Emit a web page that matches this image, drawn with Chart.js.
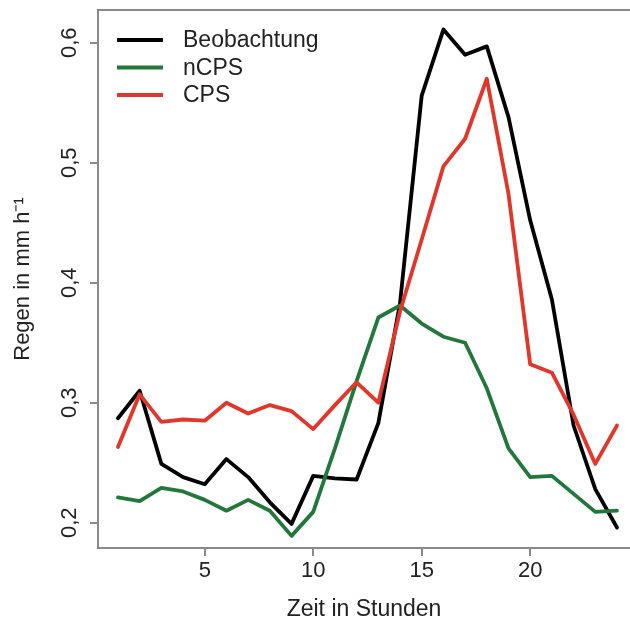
<!DOCTYPE html>
<html>
<head>
<meta charset="utf-8">
<script src="https://cdn.jsdelivr.net/npm/chart.js@4/dist/chart.umd.min.js"></script>
<style>
  html, body { margin: 0; padding: 0; background: #fff; overflow: hidden; }
  #wrap { width: 630px; height: 624px; }
</style>
</head>
<body>
<div id="wrap"><canvas id="chart" width="630" height="624"></canvas></div>
<script>
// ------------------------------------------------------------
// Tagesgang Niederschlag: Beobachtung vs. nCPS / CPS
// ------------------------------------------------------------
const hours = [1, 2, 3, 4, 5, 6, 7, 8, 9, 10, 11, 12, 13, 14, 15, 16, 17, 18, 19, 20, 21, 22, 23, 24];

const beobachtung = [0.287, 0.310, 0.249, 0.238, 0.232, 0.253, 0.238, 0.217, 0.199, 0.239, 0.237, 0.236,
                     0.283, 0.383, 0.556, 0.611, 0.590, 0.597, 0.538, 0.452, 0.386, 0.281, 0.228, 0.196];
const nCPS        = [0.221, 0.218, 0.229, 0.226, 0.219, 0.210, 0.219, 0.210, 0.189, 0.209, 0.262, 0.318,
                     0.371, 0.381, 0.366, 0.355, 0.350, 0.312, 0.262, 0.238, 0.239, 0.224, 0.209, 0.210];
const CPS         = [0.263, 0.307, 0.284, 0.286, 0.285, 0.300, 0.291, 0.298, 0.293, 0.278, 0.298, 0.317,
                     0.300, 0.376, 0.436, 0.497, 0.520, 0.570, 0.474, 0.332, 0.325, 0.290, 0.249, 0.281];

const xTicks = [5, 10, 15, 20];
const yTicks = [0.2, 0.3, 0.4, 0.5, 0.6];

const AXIS_GREY = '#8a8a8a';
const TEXT = '#222';
const FONT = '"Liberation Sans", Arial, Helvetica, sans-serif';
const LINE_W = 3.8;

const series = [
  { label: 'Beobachtung', values: beobachtung, color: '#000000', order: 3 },
  { label: 'nCPS',        values: nCPS,        color: '#22783a', order: 2 },
  { label: 'CPS',         values: CPS,         color: '#e2362b', order: 1 },
];

function pts(values) {
  return values.map((v, i) => ({ x: hours[i], y: v }));
}

// top border of the plot box + rotated y tick labels + legend inside the plot
const boxAndLabels = {
  id: 'boxAndLabels',
  afterDraw(chart) {
    const { ctx, chartArea: a, scales } = chart;
    ctx.save();
    ctx.strokeStyle = AXIS_GREY;
    ctx.lineWidth = 2;
    ctx.beginPath();
    ctx.moveTo(a.left - 1, a.top);
    ctx.lineTo(a.right, a.top);
    ctx.stroke();

    // y labels are drawn vertical, R style
    ctx.fillStyle = TEXT;
    ctx.font = '22px ' + FONT;
    ctx.textAlign = 'center';
    ctx.textBaseline = 'middle';
    yTicks.forEach(v => {
      const y = scales.y.getPixelForValue(v);
      ctx.save();
      ctx.translate(70, y);
      ctx.rotate(-Math.PI / 2);
      ctx.fillText(v.toFixed(1).replace('.', ','), 0, 0);
      ctx.restore();
    });

    // legend
    const lg = { x0: 117, x1: 163, tx: 183, y0: 40, dy: 27.5 };
    ctx.font = '23px ' + FONT;
    ctx.textAlign = 'left';
    ctx.lineCap = 'butt';
    series.forEach((s, i) => {
      const y = lg.y0 + i * lg.dy;
      ctx.strokeStyle = s.color;
      ctx.lineWidth = LINE_W;
      ctx.beginPath();
      ctx.moveTo(lg.x0, y);
      ctx.lineTo(lg.x1, y);
      ctx.stroke();
      ctx.fillText(s.label, lg.tx, y + 1);
    });
    ctx.restore();
  }
};

new Chart(document.getElementById('chart'), {
  type: 'line',
  data: {
    datasets: series.map(s => ({
      label: s.label,
      data: pts(s.values),
      borderColor: s.color,
      backgroundColor: s.color,
      borderWidth: LINE_W,
      borderJoinStyle: 'round',
      borderCapStyle: 'round',
      pointRadius: 0,
      tension: 0,
      fill: false,
      order: s.order,
    }))
  },
  options: {
    responsive: false,
    animation: false,
    devicePixelRatio: 1,
    layout: { padding: { left: 0, right: 0, top: 10, bottom: 0 } },
    plugins: { legend: { display: false }, tooltip: { enabled: false } },
    scales: {
      x: {
        type: 'linear',
        position: 'bottom',
        min: 0.08,
        max: 24.6,
        afterBuildTicks: sc => { sc.ticks = xTicks.map(v => ({ value: v })); },
        afterFit: sc => { sc.height = 76; },
        grid: { drawOnChartArea: false, drawTicks: true, tickLength: 8, color: AXIS_GREY, lineWidth: 2 },
        border: { display: true, color: AXIS_GREY, width: 2 },
        ticks: { color: TEXT, font: { size: 22, family: FONT }, padding: 2, maxRotation: 0 },
        title: {
          display: true,
          text: 'Zeit in Stunden',
          color: TEXT,
          font: { size: 23, family: FONT },
          padding: { top: 0, bottom: 1 },
        },
      },
      y: {
        type: 'linear',
        position: 'left',
        min: 0.1789,
        max: 0.6273,
        afterBuildTicks: sc => { sc.ticks = yTicks.map(v => ({ value: v })); },
        afterFit: sc => { sc.width = 98; },
        grid: { drawOnChartArea: false, drawTicks: true, tickLength: 8, color: AXIS_GREY, lineWidth: 2 },
        border: { display: true, color: AXIS_GREY, width: 2 },
        ticks: { display: false },
        title: {
          display: true,
          text: 'Regen in mm h\u207B\u00B9',
          color: TEXT,
          font: { size: 22, family: FONT },
          padding: { top: 10, bottom: 0 },
        },
      },
    },
  },
  plugins: [boxAndLabels],
});
</script>
</body>
</html>
